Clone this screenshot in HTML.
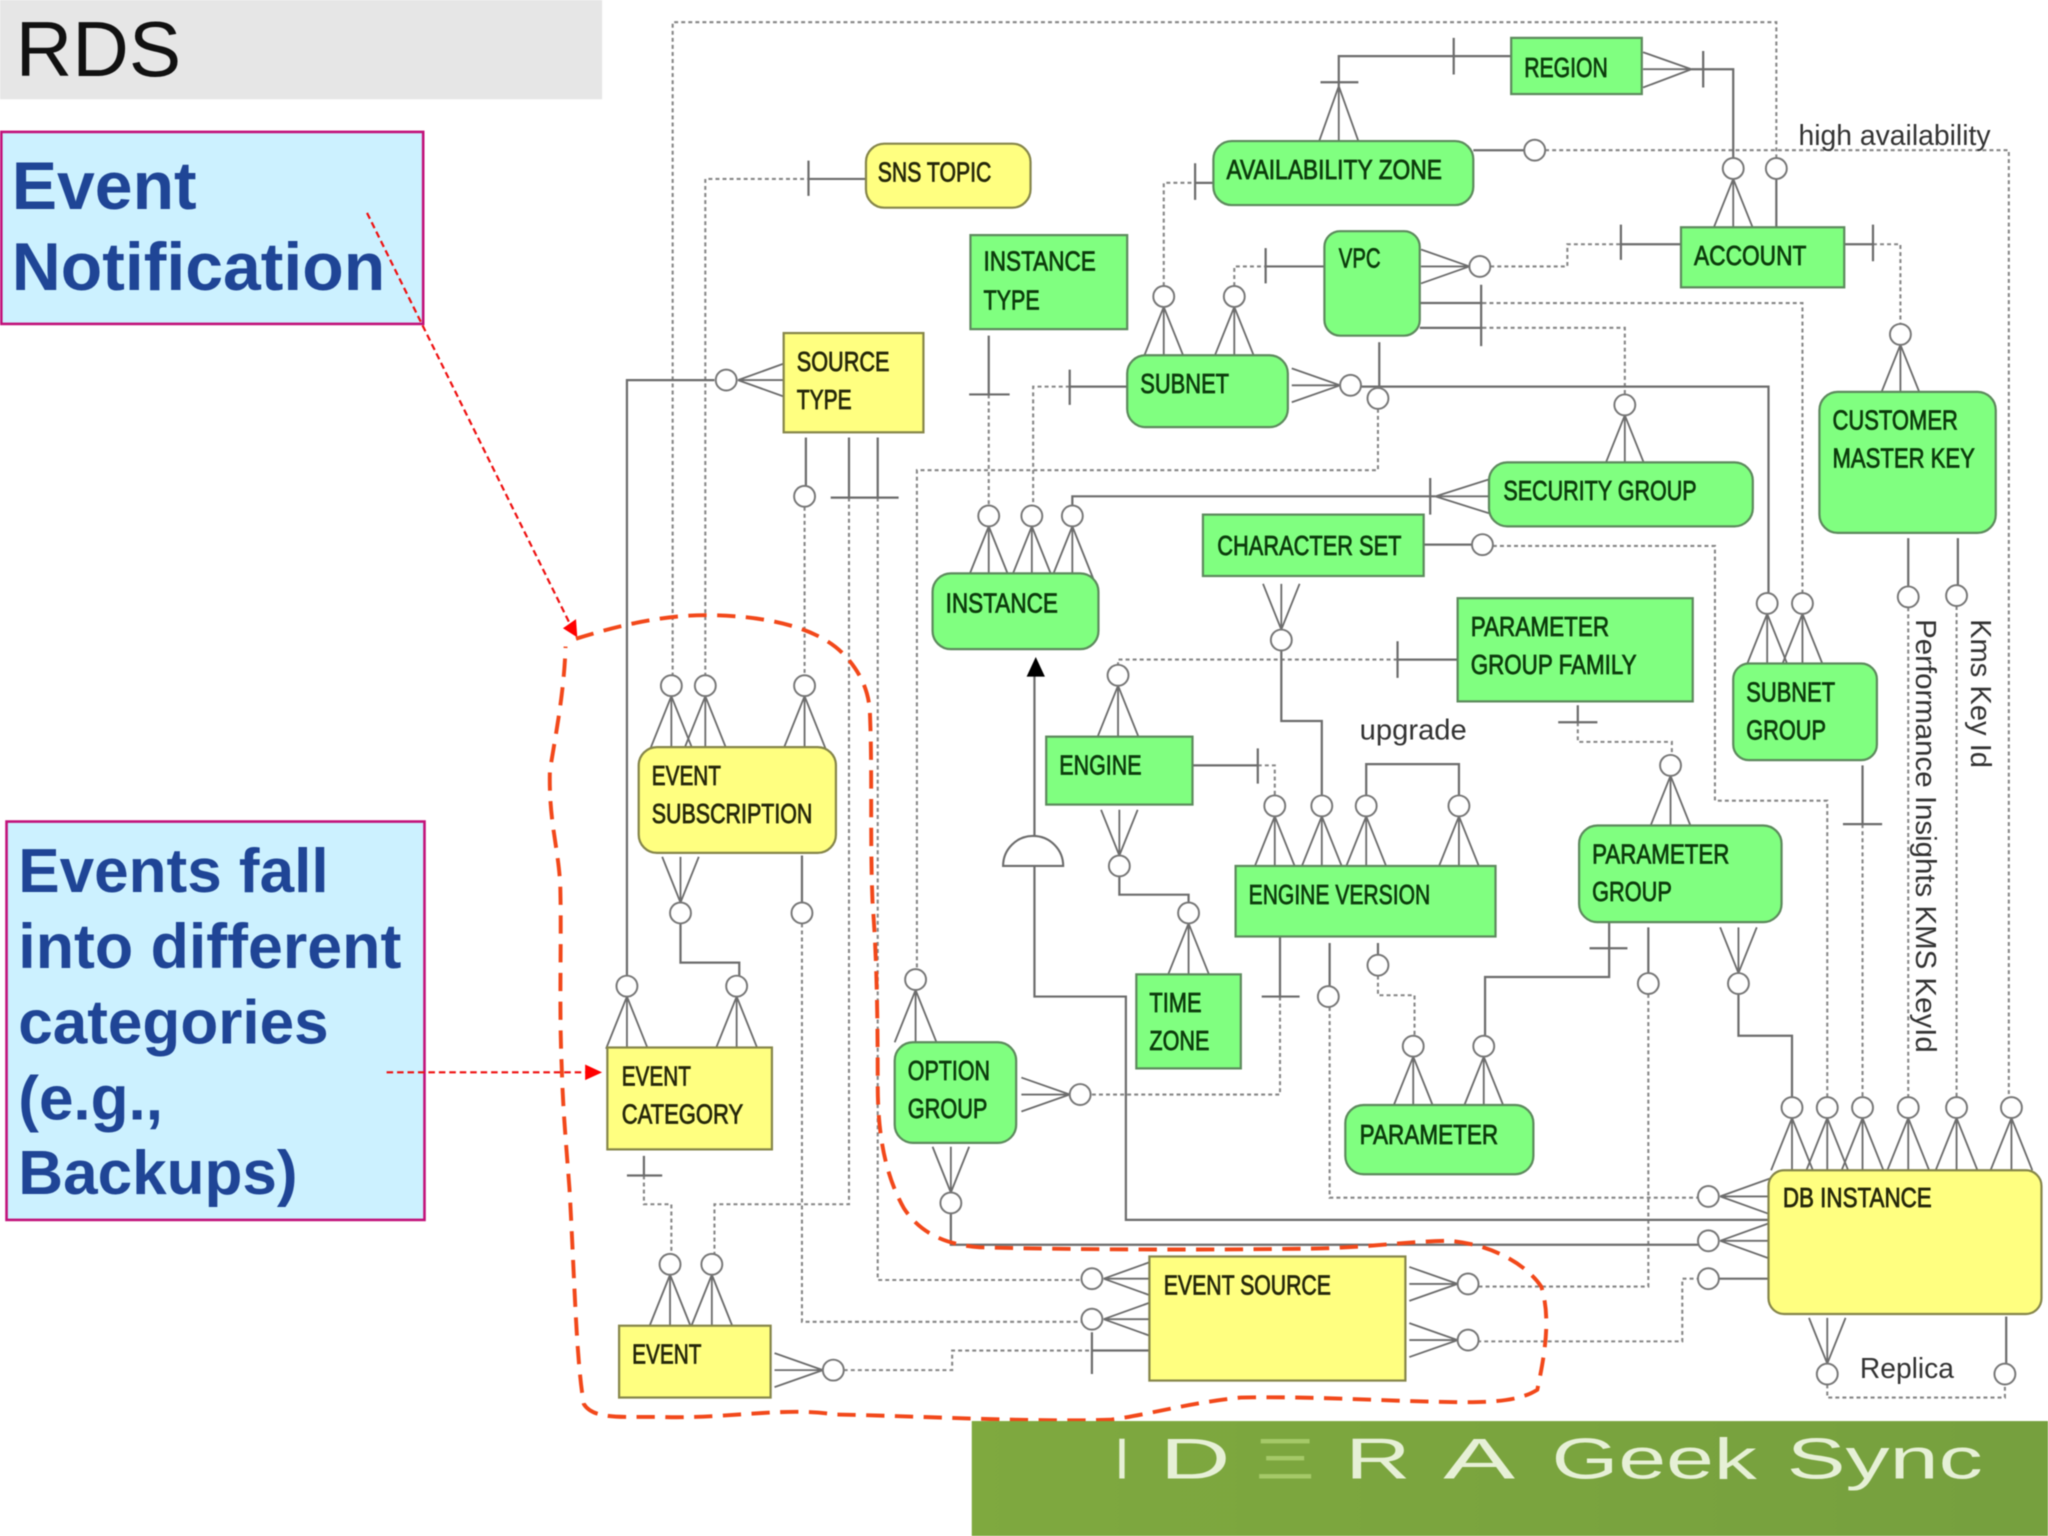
<!DOCTYPE html>
<html><head><meta charset="utf-8"><title>RDS Event Notification</title>
<style>
html,body{margin:0;padding:0;background:#fff;width:2048px;height:1536px;overflow:hidden}
svg{display:block;filter:blur(.45px)}
text{font-family:"Liberation Sans",sans-serif}
.s{stroke:#6c6c6c;stroke-width:1.7;fill:none}
.d{stroke:#868686;stroke-width:1.6;stroke-dasharray:3 2.4;fill:none}
.c{stroke:#777;stroke-width:1.5;fill:#fff}
.f{stroke:#6c6c6c;stroke-width:1.4;fill:none}
.g{fill:#80ff80;stroke:#5d8a5d;stroke-width:1.7}
.y{fill:#ffff80;stroke:#86864a;stroke-width:1.7}
.tg{font-size:21.5px;fill:#0c3d0c;stroke:#0c3d0c;stroke-width:.6}
.ty{font-size:21.5px;fill:#26280a;stroke:#26280a;stroke-width:.6}
.lab{font-size:22px;fill:#333}
.blue{font-weight:bold;fill:#1f4596}
.bn{font-size:44px;fill:#e6f0d6}
</style></head><body>
<svg xmlns="http://www.w3.org/2000/svg" width="2048" height="1536" viewBox="0 0 1568 1176">
<defs>
<g id="u"><path class="f" d="M0 8L-16 48M0 8V48M0 8L16 48"/><circle class="c" r="8"/></g>
<g id="d"><path class="f" d="M0 -8L-14 -43M0 -8V-43M0 -8L14 -43"/><circle class="c" r="8"/></g>
<g id="r"><path class="f" d="M-8 0L-45 -13M-8 0H-45M-8 0L-45 13"/><circle class="c" r="8"/></g>
<g id="l"><path class="f" d="M9 0L48 -14M9 0H48M9 0L48 14"/><circle class="c" r="8"/></g>
<linearGradient id="bg" x1="0" y1="0" x2="1" y2="0"><stop offset="0" stop-color="#7fa93f"/><stop offset="1" stop-color="#76a03e"/></linearGradient>
</defs>
<rect width="1568" height="1176" fill="#fff"/>

<!-- header -->
<rect x="0" y="0" width="461" height="76" fill="#e6e6e6"/>
<text x="12" y="58" font-size="60" fill="#111">RDS</text>

<!-- dotted connectors -->
<path class="d" d="M515 518V17H1360V122"/>
<path class="d" d="M540 518V137H618"/>
<path class="d" d="M616 388V518"/>
<path class="d" d="M614 707V1012H828"/>
<path class="d" d="M650 381V922H547V961"/>
<path class="d" d="M672 381V980H828"/>
<path class="d" d="M1055 313V360H702V743"/>
<path class="d" d="M757 302V388"/>
<path class="d" d="M819 296H791V388"/>
<path class="d" d="M891 219V140H915"/>
<path class="d" d="M945 219V204H969"/>
<path class="d" d="M1141 204H1200V187H1241"/>
<path class="d" d="M1135 232H1380V455"/>
<path class="d" d="M1135 251H1244V303"/>
<path class="d" d="M1183 115H1538V840"/>
<path class="d" d="M1434 187H1455V248"/>
<path class="d" d="M1461 465V840"/>
<path class="d" d="M1498 464V840"/>
<path class="d" d="M1143 418H1313V613H1399V841"/>
<path class="d" d="M1070 505H856V510"/>
<path class="d" d="M1208 553V568H1280V578"/>
<path class="d" d="M1426 631V840"/>
<path class="d" d="M963 586H976V610"/>
<path class="d" d="M980 763V838H835"/>
<path class="d" d="M1018 771V917H1300"/>
<path class="d" d="M1055 747V762H1083V793"/>
<path class="d" d="M1262 761V985H1131"/>
<path class="d" d="M1131 1027H1288V979H1300"/>
<path class="d" d="M493 900V922H514V961"/>
<path class="d" d="M646 1049H729V1034H836"/>
<path class="d" d="M1399 1060V1070H1535V1060"/>

<!-- solid connectors -->
<path class="s" d="M547 291H480V748"/>
<path class="s" d="M617 335V372"/>
<path class="s" d="M650 335V381M672 335V381M636 381H688"/>
<path class="s" d="M619 123V150M618 137H663"/>
<path class="s" d="M757 257V302M742 302H773"/>
<path class="s" d="M863 296H819M819 283V310"/>
<path class="s" d="M915 140H929M915 125V153"/>
<path class="s" d="M969 204H1014M969 190V217"/>
<path class="s" d="M1241 187H1287M1241 172V199"/>
<path class="s" d="M1087 232H1135M1087 251H1135M1134 218V265"/>
<path class="s" d="M1042 296H1354V455"/>
<path class="s" d="M1056 262V298"/>
<path class="s" d="M1157 43H1025V66M1113 29V57M1011 63H1040"/>
<path class="f" d="M1025 66L1010 108M1025 66V108M1025 66L1040 108"/>
<path class="f" d="M1258 40L1295 53M1258 53H1295M1258 67L1295 53"/>
<path class="s" d="M1295 53H1327V122M1304 39V67"/>
<path class="s" d="M1360 137V174"/>
<path class="s" d="M1128 115H1167"/>
<path class="s" d="M1412 187H1434M1434 172V200"/>
<path class="s" d="M1461 412V449M1499 412V449"/>
<path class="f" d="M1140 367L1099 380M1140 380H1099M1140 393L1099 380"/>
<path class="s" d="M1099 380H821V388M1095 366V394"/>
<path class="s" d="M1090 417H1127"/>
<path class="s" d="M981 498V552H1012V610"/>
<path class="s" d="M1116 505H1070M1070 491V519"/>
<path class="s" d="M1208 540V553M1193 553H1223"/>
<path class="s" d="M1426 586V631M1411 631H1441"/>
<path class="s" d="M913 586H963M963 573V600"/>
<path class="s" d="M857 671V685H910V692"/>
<path class="s" d="M1046 609V585H1117V609"/>
<path class="s" d="M980 717V763M966 763H995"/>
<path class="s" d="M1018 722V755M1055 722V731"/>
<path class="s" d="M1232 706V748H1137V793M1217 726H1246"/>
<path class="s" d="M1262 710V745"/>
<path class="s" d="M1331 761V793H1372V841"/>
<path class="s" d="M1316 979H1354"/>
<path class="s" d="M1300 953H728V929"/>
<path class="s" d="M1354 934H862V763H792V515"/>
<path class="s" d="M521 707V737H566V748"/>
<path class="s" d="M614 655V692"/>
<path class="s" d="M493 885V900M480 900H507"/>
<path class="s" d="M836 1034H880M836 1020V1052"/>
<path class="s" d="M1536 1008V1045"/>

<!-- arrowhead and subtype arc -->
<path d="M793 503L800 518H786Z" fill="#000"/>
<path d="M768 663A23 23 0 0 1 814 663Z" fill="#fff" stroke="#6c6c6c" stroke-width="1.6"/>

<!-- crow's feet with optional circles -->
<use href="#u" x="514" y="525"/><use href="#u" x="540" y="525"/><use href="#u" x="616" y="525"/>
<use href="#l" x="556" y="291"/>
<circle class="c" cx="616" cy="380" r="8"/>
<use href="#u" x="757" y="395"/><use href="#u" x="790" y="395"/><use href="#u" x="821" y="395"/>
<use href="#u" x="891" y="227"/><use href="#u" x="945" y="227"/>
<use href="#r" x="1133" y="204"/><use href="#r" x="1034" y="295"/>
<circle class="c" cx="1055" cy="305" r="8"/>
<use href="#u" x="1327" y="129"/>
<circle class="c" cx="1360" cy="129" r="8"/>
<circle class="c" cx="1175" cy="115" r="8"/>
<use href="#u" x="1455" y="256"/>
<circle class="c" cx="1461" cy="457" r="8"/><circle class="c" cx="1498" cy="456" r="8"/>
<use href="#u" x="1244" y="310"/>
<circle class="c" cx="1135" cy="417" r="8"/>
<use href="#d" x="981" y="490"/>
<use href="#u" x="856" y="517"/>
<use href="#u" x="1353" y="462"/><use href="#u" x="1380" y="462"/>
<use href="#d" x="857" y="663"/>
<use href="#u" x="976" y="617"/><use href="#u" x="1012" y="617"/><use href="#u" x="1046" y="617"/><use href="#u" x="1117" y="617"/>
<use href="#u" x="910" y="699"/>
<use href="#u" x="1279" y="586"/>
<circle class="c" cx="1017" cy="763" r="8"/><circle class="c" cx="1055" cy="739" r="8"/>
<use href="#u" x="1082" y="801"/><use href="#u" x="1136" y="801"/>
<circle class="c" cx="1262" cy="753" r="8"/>
<use href="#d" x="1331" y="753"/>
<use href="#u" x="701" y="750"/>
<use href="#r" x="827" y="838"/>
<use href="#d" x="728" y="921"/>
<use href="#d" x="521" y="699"/>
<circle class="c" cx="614" cy="699" r="8"/>
<use href="#u" x="480" y="755"/><use href="#u" x="564" y="755"/>
<use href="#u" x="513" y="968"/><use href="#u" x="545" y="968"/>
<use href="#r" x="638" y="1049"/>
<use href="#l" x="836" y="979"/><use href="#l" x="836" y="1010"/>
<use href="#r" x="1124" y="983"/><use href="#r" x="1124" y="1026"/>
<use href="#u" x="1372" y="848"/><use href="#u" x="1399" y="848"/><use href="#u" x="1426" y="848"/><use href="#u" x="1461" y="848"/><use href="#u" x="1498" y="848"/><use href="#u" x="1540" y="848"/>
<use href="#l" x="1308" y="916"/><use href="#l" x="1308" y="950"/>
<circle class="c" cx="1308" cy="979" r="8"/>
<use href="#d" x="1399" y="1052"/>
<circle class="c" cx="1535" cy="1052" r="8"/>

<!-- entities -->
<rect class="g" x="1157" y="29" width="100" height="43"/>
<rect class="g" x="929" y="108" width="199" height="49" rx="14"/>
<rect class="y" x="663" y="110" width="126" height="49" rx="14"/>
<rect class="g" x="743" y="180" width="120" height="72"/>
<rect class="g" x="1014" y="177" width="73" height="80" rx="12"/>
<rect class="g" x="1287" y="174" width="125" height="46"/>
<rect class="g" x="863" y="272" width="123" height="55" rx="14"/>
<rect class="y" x="600" y="255" width="107" height="76"/>
<rect class="g" x="1393" y="300" width="135" height="108" rx="14"/>
<rect class="g" x="1140" y="354" width="202" height="49" rx="14"/>
<rect class="g" x="921" y="394" width="169" height="47"/>
<rect class="g" x="714" y="439" width="127" height="58" rx="14"/>
<rect class="g" x="1116" y="458" width="180" height="79"/>
<rect class="g" x="1327" y="508" width="110" height="74" rx="12"/>
<rect class="g" x="801" y="564" width="112" height="52"/>
<rect class="y" x="489" y="572" width="151" height="81" rx="14"/>
<rect class="g" x="946" y="663" width="199" height="54"/>
<rect class="g" x="1209" y="632" width="155" height="74" rx="14"/>
<rect class="g" x="870" y="746" width="80" height="72"/>
<rect class="g" x="685" y="798" width="93" height="77" rx="14"/>
<rect class="y" x="465" y="802" width="126" height="78"/>
<rect class="g" x="1030" y="846" width="144" height="53" rx="14"/>
<rect class="y" x="1354" y="896" width="209" height="110" rx="12"/>
<rect class="y" x="880" y="962" width="196" height="95"/>
<rect class="y" x="474" y="1015" width="116" height="55"/>

<!-- entity labels -->
<g class="tg" transform="translate(0 -1)">
<text x="1167" y="60" textLength="64" lengthAdjust="spacingAndGlyphs">REGION</text>
<text x="939" y="138" textLength="165" lengthAdjust="spacingAndGlyphs">AVAILABILITY ZONE</text>
<text x="753" y="208" textLength="86" lengthAdjust="spacingAndGlyphs">INSTANCE</text>
<text x="753" y="238" textLength="43" lengthAdjust="spacingAndGlyphs">TYPE</text>
<text x="1025" y="206" textLength="32" lengthAdjust="spacingAndGlyphs">VPC</text>
<text x="1297" y="204" textLength="86" lengthAdjust="spacingAndGlyphs">ACCOUNT</text>
<text x="873" y="302" textLength="68" lengthAdjust="spacingAndGlyphs">SUBNET</text>
<text x="1403" y="330" textLength="96" lengthAdjust="spacingAndGlyphs">CUSTOMER</text>
<text x="1403" y="359" textLength="109" lengthAdjust="spacingAndGlyphs">MASTER KEY</text>
<text x="1151" y="384" textLength="148" lengthAdjust="spacingAndGlyphs">SECURITY GROUP</text>
<text x="932" y="426" textLength="141" lengthAdjust="spacingAndGlyphs">CHARACTER SET</text>
<text x="724" y="470" textLength="86" lengthAdjust="spacingAndGlyphs">INSTANCE</text>
<text x="1126" y="488" textLength="106" lengthAdjust="spacingAndGlyphs">PARAMETER</text>
<text x="1126" y="517" textLength="127" lengthAdjust="spacingAndGlyphs">GROUP FAMILY</text>
<text x="1337" y="538" textLength="68" lengthAdjust="spacingAndGlyphs">SUBNET</text>
<text x="1337" y="567" textLength="61" lengthAdjust="spacingAndGlyphs">GROUP</text>
<text x="811" y="594" textLength="63" lengthAdjust="spacingAndGlyphs">ENGINE</text>
<text x="956" y="693" textLength="139" lengthAdjust="spacingAndGlyphs">ENGINE VERSION</text>
<text x="1219" y="662" textLength="105" lengthAdjust="spacingAndGlyphs">PARAMETER</text>
<text x="1219" y="691" textLength="61" lengthAdjust="spacingAndGlyphs">GROUP</text>
<text x="880" y="776" textLength="40" lengthAdjust="spacingAndGlyphs">TIME</text>
<text x="880" y="805" textLength="46" lengthAdjust="spacingAndGlyphs">ZONE</text>
<text x="695" y="828" textLength="63" lengthAdjust="spacingAndGlyphs">OPTION</text>
<text x="695" y="857" textLength="61" lengthAdjust="spacingAndGlyphs">GROUP</text>
<text x="1041" y="877" textLength="106" lengthAdjust="spacingAndGlyphs">PARAMETER</text>
</g>
<g class="ty" transform="translate(0 -1)">
<text x="672" y="140" textLength="87" lengthAdjust="spacingAndGlyphs">SNS TOPIC</text>
<text x="610" y="285" textLength="71" lengthAdjust="spacingAndGlyphs">SOURCE</text>
<text x="610" y="314" textLength="42" lengthAdjust="spacingAndGlyphs">TYPE</text>
<text x="499" y="602" textLength="53" lengthAdjust="spacingAndGlyphs">EVENT</text>
<text x="499" y="631" textLength="123" lengthAdjust="spacingAndGlyphs">SUBSCRIPTION</text>
<text x="476" y="832" textLength="53" lengthAdjust="spacingAndGlyphs">EVENT</text>
<text x="476" y="861" textLength="93" lengthAdjust="spacingAndGlyphs">CATEGORY</text>
<text x="1365" y="925" textLength="114" lengthAdjust="spacingAndGlyphs">DB INSTANCE</text>
<text x="891" y="992" textLength="128" lengthAdjust="spacingAndGlyphs">EVENT SOURCE</text>
<text x="484" y="1045" textLength="53" lengthAdjust="spacingAndGlyphs">EVENT</text>
</g>

<!-- free labels -->
<text class="lab" x="1377" y="111" textLength="147" lengthAdjust="spacingAndGlyphs">high availability</text>
<text class="lab" x="1041" y="566" textLength="82" lengthAdjust="spacingAndGlyphs">upgrade</text>
<text class="lab" x="1424" y="1055" textLength="72" lengthAdjust="spacingAndGlyphs">Replica</text>
<text class="lab" transform="translate(1467 474) rotate(90)" textLength="332" lengthAdjust="spacingAndGlyphs">Performance Insights KMS KeyId</text>
<text class="lab" transform="translate(1509 474) rotate(90)" textLength="114" lengthAdjust="spacingAndGlyphs">Kms Key Id</text>

<!-- callouts -->
<rect x="1" y="101" width="323" height="147" fill="#ccf1ff" stroke="#c2127a" stroke-width="2"/>
<text class="blue" x="9" y="160" font-size="52">Event</text>
<text class="blue" x="9" y="222" font-size="52">Notification</text>
<rect x="5" y="629" width="320" height="305" fill="#ccf1ff" stroke="#c2127a" stroke-width="2"/>
<text class="blue" x="14" y="683" font-size="47.5">Events fall</text>
<text class="blue" x="14" y="741" font-size="48">into different</text>
<text class="blue" x="14" y="799" font-size="47.5">categories</text>
<text class="blue" x="14" y="857" font-size="47.5">(e.g.,</text>
<text class="blue" x="14" y="914" font-size="47.5">Backups)</text>

<!-- red arrows -->
<path d="M281 163L436 477" fill="none" stroke="#ee1111" stroke-width="1.7" stroke-dasharray="5 3"/>
<path d="M442 488L431 481L441 474Z" fill="#f00"/>
<path d="M296 821H449" fill="none" stroke="#ee1111" stroke-width="1.7" stroke-dasharray="5 3"/>
<path d="M461 821L448 815V827Z" fill="#f00"/>

<!-- dashed lasso -->
<path d="M441 489C470 480 505 471 540 471C585 471 625 480 645 500C655 510 665 525 666 545C668 590 666 640 668 690C671 730 672 770 672 830C672 870 678 900 692 925C705 945 725 953 750 955C830 957 930 957 1000 956C1040 956 1080 950 1110 950C1145 953 1170 970 1180 985C1188 1010 1182 1040 1177 1064C1160 1075 1130 1074 1090 1073C1050 1072 1000 1069 950 1070C910 1074 880 1083 850 1087C790 1089 700 1084 640 1083C600 1077 560 1086 510 1085C480 1084 455 1088 447 1075C441 1040 440 980 436 910C433 870 431 850 430 815C428 770 430 720 429 680C428 650 420 630 421 590C425 565 432 530 433 495" fill="none" stroke="#f2481a" stroke-width="3" stroke-dasharray="14 8"/>

<!-- banner -->
<rect x="744" y="1088" width="824" height="88" fill="url(#bg)"/>
<text class="bn" x="853" y="1132" textLength="12" lengthAdjust="spacingAndGlyphs">I</text>
<text class="bn" x="888" y="1132" textLength="54" lengthAdjust="spacingAndGlyphs">D</text>
<text class="bn" x="961" y="1132" style="fill:#a5c968" textLength="46" lengthAdjust="spacingAndGlyphs">Ξ</text>
<text class="bn" x="1030" y="1132" textLength="50" lengthAdjust="spacingAndGlyphs">R</text>
<text class="bn" x="1105" y="1132" textLength="55" lengthAdjust="spacingAndGlyphs">A</text>
<text class="bn" x="1188" y="1132" textLength="157" lengthAdjust="spacingAndGlyphs">Geek</text>
<text class="bn" x="1368" y="1132" textLength="150" lengthAdjust="spacingAndGlyphs">Sync</text>
</svg>
</body></html>
